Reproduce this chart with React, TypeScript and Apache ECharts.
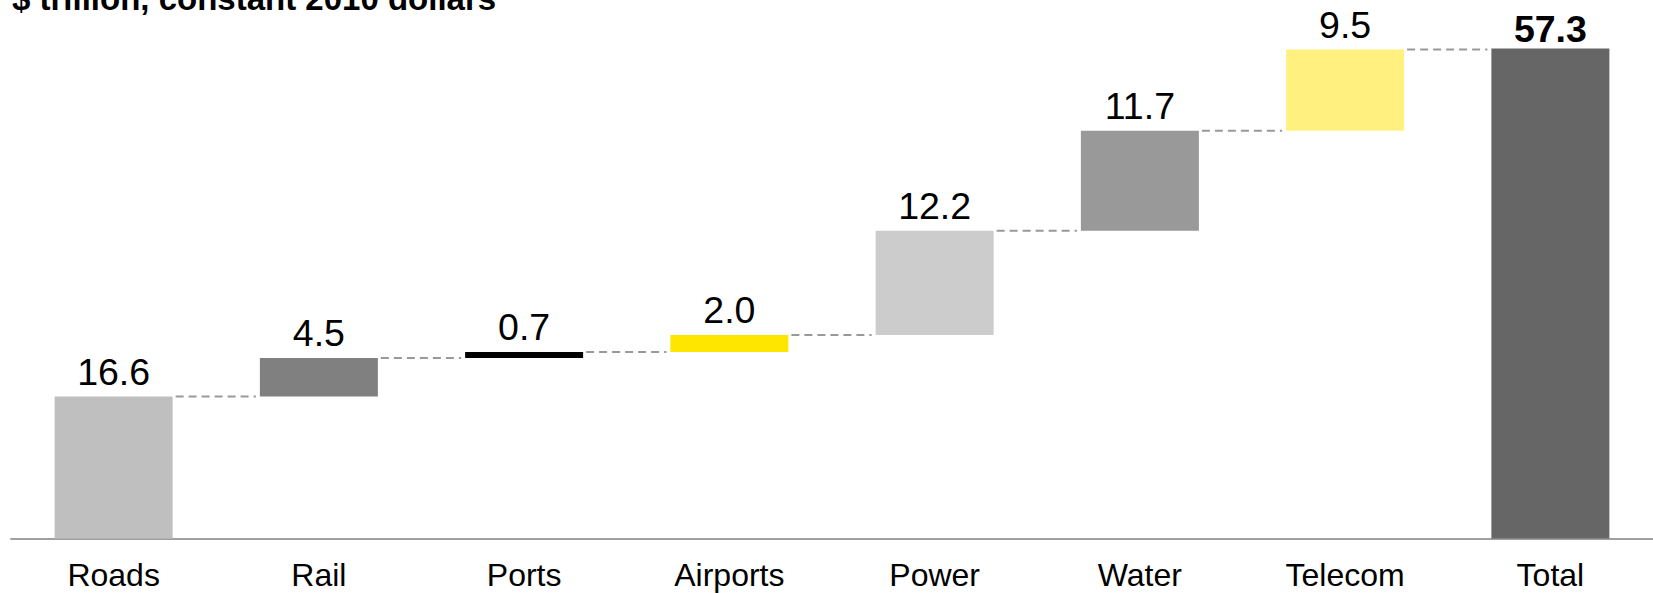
import React, { useEffect, useRef } from "react";
import * as echarts from "echarts";

// Infrastructure investment need by sector, $ trillion (constant 2010 dollars)
const categories = ["Roads", "Rail", "Ports", "Airports", "Power", "Water", "Telecom", "Total"];
const sectorValues = [16.6, 4.5, 0.7, 2.0, 12.2, 11.7, 9.5];
const totalValue = 57.3;
const barColors = ["#bfbfbf", "#808080", "#000000", "#ffe600", "#cccccc", "#999999", "#fff080", "#666666"];

const FONT = "'Liberation Sans', Arial, Helvetica, sans-serif";
const BAR_WIDTH = 118;

export default function App() {
  const ref = useRef<HTMLDivElement>(null);

  useEffect(() => {
    if (!ref.current) return;
    const chart = echarts.init(ref.current, undefined, { renderer: "svg" });

    // running totals: base of each floating bar and level of each connector
    const bases: number[] = [];
    const levels: number[] = [];
    let run = 0;
    sectorValues.forEach((v) => {
      bases.push(Math.round(run * 10) / 10);
      run += v;
      levels.push(Math.round(run * 10) / 10);
    });
    bases.push(0);

    const values = [...sectorValues, totalValue];

    chart.setOption({
      animation: false,
      grid: { left: 11, right: -2, top: 25.5, bottom: 54.5, containLabel: false },
      xAxis: {
        type: "category",
        data: categories,
        axisLine: { show: true, lineStyle: { color: "#a0a0a0", width: 2 } },
        axisTick: { show: false },
        axisLabel: { color: "#000", fontFamily: FONT, fontSize: 32, lineHeight: 28, margin: 22.5 },
        splitLine: { show: false },
      },
      yAxis: {
        type: "value",
        min: 0,
        max: 60,
        show: false,
        splitLine: { show: false },
      },
      graphic: [
        {
          type: "text",
          x: 12,
          y: -1.5,
          style: {
            text: "$ trillion, constant 2010 dollars",
            fontFamily: FONT,
            fontSize: 33,
            fontWeight: "bold",
            fill: "#000",
            verticalAlign: "middle",
            align: "left",
          },
        },
      ],
      series: [
        {
          type: "bar",
          stack: "w",
          barWidth: BAR_WIDTH,
          silent: true,
          itemStyle: { color: "transparent" },
          data: bases,
        },
        {
          type: "bar",
          stack: "w",
          barWidth: BAR_WIDTH,
          data: values.map((v, i) => ({
            value: v,
            itemStyle: { color: barColors[i] },
            label:
              i === values.length - 1
                ? { fontWeight: "bold", distance: 1 }
                : undefined,
          })),
          label: {
            show: true,
            position: "top",
            distance: 5.75,
            color: "#000",
            fontFamily: FONT,
            fontSize: 37.5,
            formatter: (p: any) => Number(p.value).toFixed(1),
          },
        },
        {
          type: "custom",
          silent: true,
          data: levels.map((lv, i) => [i, lv]),
          renderItem: (params: any, api: any) => {
            const i = api.value(0);
            const lv = api.value(1);
            const a = api.coord([i, lv]);
            const b = api.coord([i + 1, lv]);
            const half = BAR_WIDTH / 2;
            return {
              type: "line",
              shape: { x1: a[0] + half + 3, y1: a[1], x2: b[0] - half - 4, y2: b[1] },
              style: { stroke: "#999999", lineWidth: 2, lineDash: [8, 5] },
            };
          },
        },
      ],
    });

    return () => chart.dispose();
  }, []);

  return (
    <div
      ref={ref}
      style={{ position: "fixed", left: 0, top: 0, width: 1653, height: 593, background: "#fff" }}
    />
  );
}
